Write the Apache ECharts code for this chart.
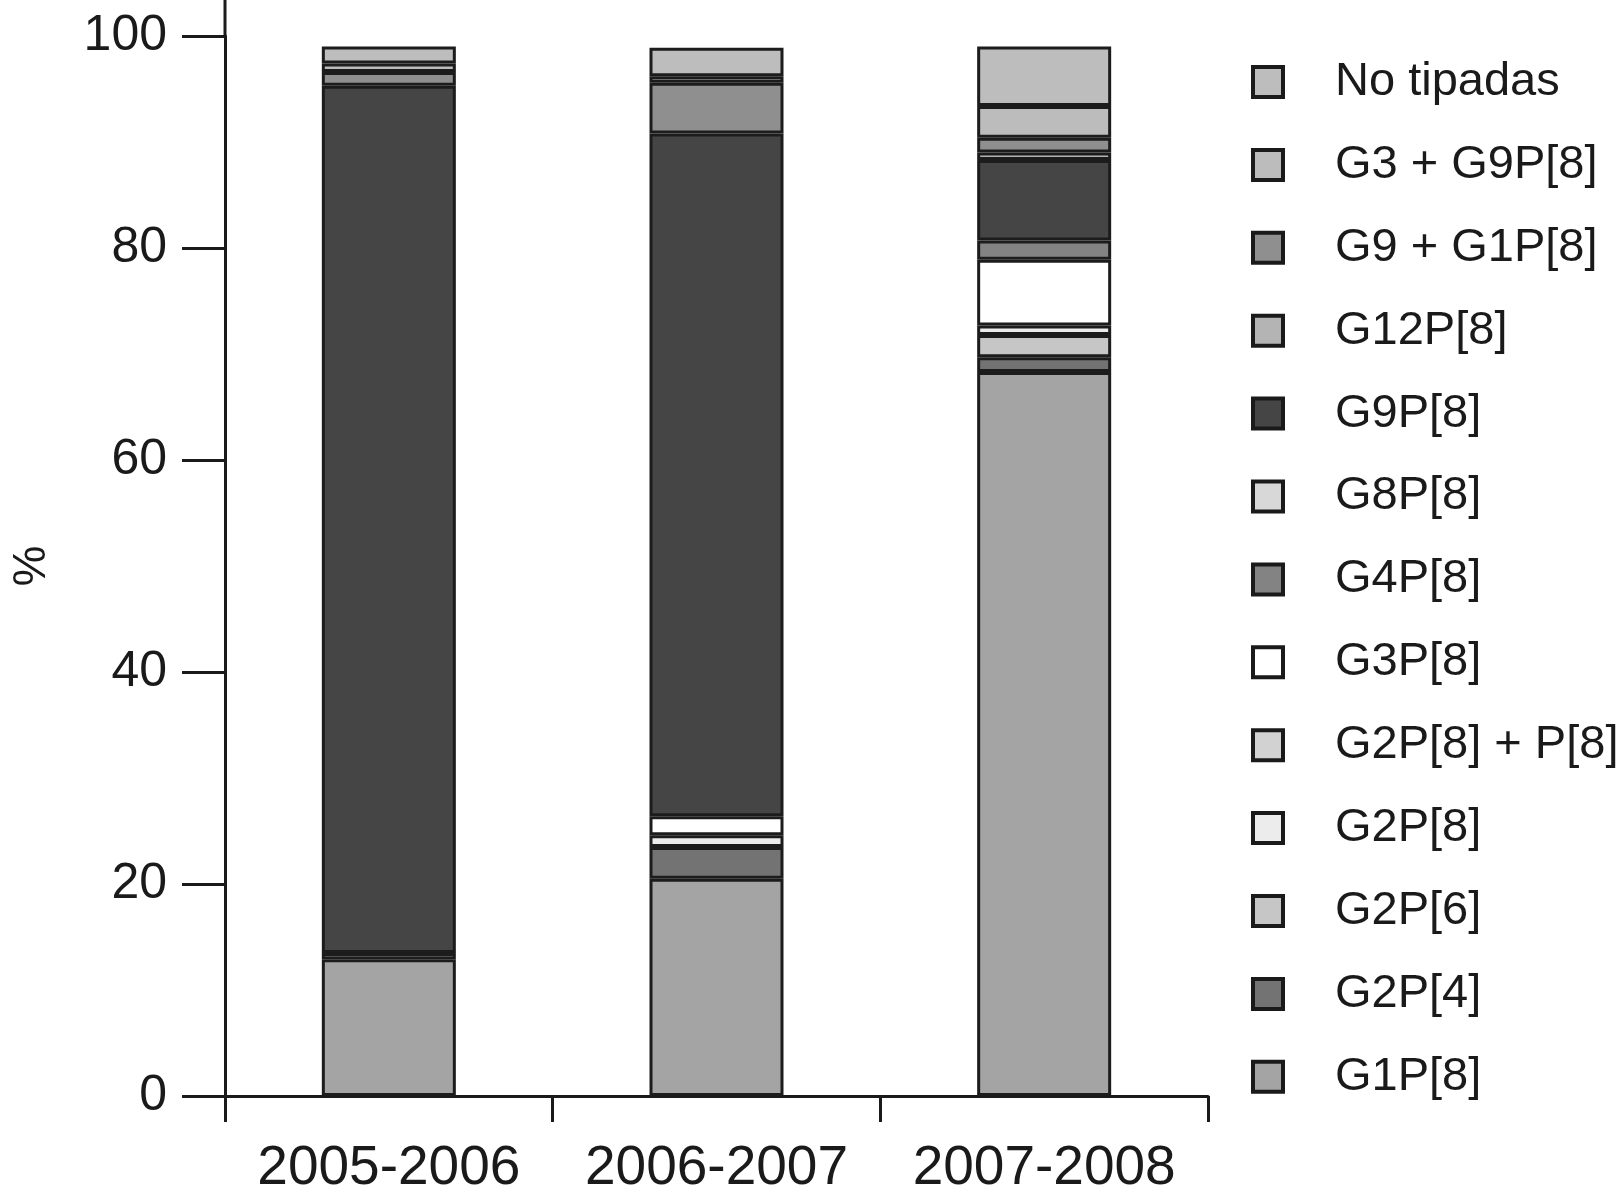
<!DOCTYPE html>
<html>
<head>
<meta charset="utf-8">
<script src="https://cdn.jsdelivr.net/npm/echarts@6/dist/echarts.min.js"></script>
<style>
html,body{margin:0;padding:0;background:#fff;}
#chart{width:1623px;height:1201px;}
</style>
</head>
<body>
<div id="chart"></div>
<script>
// Categories (seasons)
const categories = ['2005-2006', '2006-2007', '2007-2008'];

// Series values (% per season), bottom of stack first
const G1P8    = [12.9, 20.5, 68.3];
const G2P4    = [0,    3.0,  1.4];
const G2P6    = [0,    0,    2.1];
const G2P8    = [0.6,  1.1,  0.9];
const G2P8_P8 = [0,    0,    0];
const G3P8    = [0,    1.8,  6.2];
const G4P8    = [0,    0,    1.8];
const G8P8    = [0,    0,    0];
const G9P8    = [81.8, 64.4, 7.6];
const G12P8   = [0,    0,    0.7];
const G9_G1P8 = [1.3,  4.8,  1.4];
const G3_G9P8 = [0.8,  0.6,  3.0];
const NoTip   = [1.6,  2.7,  5.6];

// Y tick values
const yTicks = [0, 20, 40, 60, 80, 100];

const seriesDefs = [
  ['G1P[8]', G1P8, '#a4a4a4'],
  ['G2P[4]', G2P4, '#737373'],
  ['G2P[6]', G2P6, '#c6c6c6'],
  ['G2P[8]', G2P8, '#ececec'],
  ['G2P[8] + P[8]', G2P8_P8, '#d2d2d2'],
  ['G3P[8]', G3P8, '#ffffff'],
  ['G4P[8]', G4P8, '#838383'],
  ['G8P[8]', G8P8, '#d8d8d8'],
  ['G9P[8]', G9P8, '#454545'],
  ['G12P[8]', G12P8, '#b4b4b4'],
  ['G9 + G1P[8]', G9_G1P8, '#8f8f8f'],
  ['G3 + G9P[8]', G3_G9P8, '#bcbcbc'],
  ['No tipadas', NoTip, '#bdbdbd']
];

const FONT = '"Liberation Sans", Arial, sans-serif';
const chart = echarts.init(document.getElementById('chart'), null, {renderer: 'canvas'});

const series = seriesDefs.map(([name, data, color]) => ({
  name: name,
  type: 'bar',
  stack: 'total',
  barWidth: 134,
  // zero-height segments are left empty so they draw no border line
  data: data.map(v => (v === 0 ? '-' : v)),
  itemStyle: {color: color, borderColor: '#1c1c1c', borderWidth: 3},
  emphasis: {disabled: true}
}));

chart.setOption({
  animation: false,
  backgroundColor: '#ffffff',
  grid: {left: 225, right: 415, top: 36, bottom: 105, containLabel: false, outerBoundsMode: 'none'},
  xAxis: {
    type: 'category',
    data: categories,
    axisLine: {lineStyle: {color: '#1a1a1a', width: 3}},
    axisTick: {show: true, interval: 0, length: 26, lineStyle: {color: '#1a1a1a', width: 3}},
    axisLabel: {interval: 0, hideOverlap: false, fontSize: 55, color: '#1a1a1a', fontFamily: FONT, margin: 45}
  },
  yAxis: {
    type: 'value',
    min: yTicks[0],
    max: yTicks[yTicks.length - 1],
    interval: 20,
    name: '%',
    nameLocation: 'middle',
    nameRotate: 90,
    nameGap: 170,
    nameTextStyle: {fontSize: 46, color: '#1a1a1a', fontFamily: FONT},
    axisLine: {show: true, lineStyle: {color: '#1a1a1a', width: 3}},
    axisTick: {show: true, length: 43, lineStyle: {color: '#1a1a1a', width: 3}},
    axisLabel: {fontSize: 50, color: '#1a1a1a', fontFamily: FONT, margin: 58},
    splitLine: {show: false}
  },
  legend: {
    orient: 'vertical',
    left: 1246,
    top: 52,
    data: seriesDefs.map(d => d[0]).reverse(),
    icon: 'rect',
    itemWidth: 30,
    itemHeight: 30,
    itemGap: 32.9,
    itemStyle: {borderColor: '#1a1a1a', borderWidth: 4},
    textStyle: {fontSize: 47, color: '#1a1a1a', fontFamily: FONT, lineHeight: 50, padding: [0, 0, 0, 47]},
    selectedMode: false
  },
  graphic: [{
    type: 'line',
    shape: {x1: 225, y1: 0, x2: 225, y2: 37},
    style: {stroke: '#1a1a1a', lineWidth: 3},
    silent: true
  }],
  series: series
});
</script>
</body>
</html>
